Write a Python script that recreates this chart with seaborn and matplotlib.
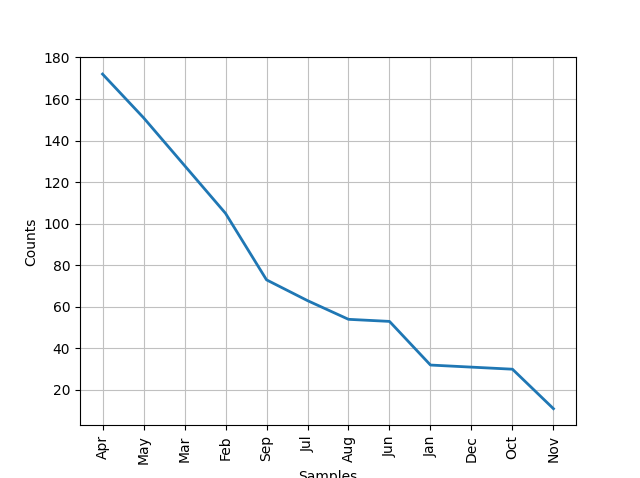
import matplotlib
matplotlib.use("Agg")
import matplotlib.pyplot as plt
import seaborn as sns
import pandas as pd

samples = ["Apr", "May", "Mar", "Feb", "Sep", "Jul", "Aug", "Jun", "Jan", "Dec", "Oct", "Nov"]
counts = [172, 151, 128, 105, 73, 63, 54, 53, 32, 31, 30, 11]

df = pd.DataFrame({"Samples": samples, "Counts": counts})

fig, ax = plt.subplots(figsize=(6.4, 4.78), dpi=100)
sns.lineplot(data=df, x="Samples", y="Counts", sort=False, linewidth=2, color="#1f77b4", ax=ax)
ax.grid(True, color="silver")
ax.set_axisbelow(True)
plt.setp(ax.get_xticklabels(), rotation=90)
ax.set_xlabel("Samples")
ax.set_ylabel("Counts")
fig.savefig("out.png", dpi=100)
